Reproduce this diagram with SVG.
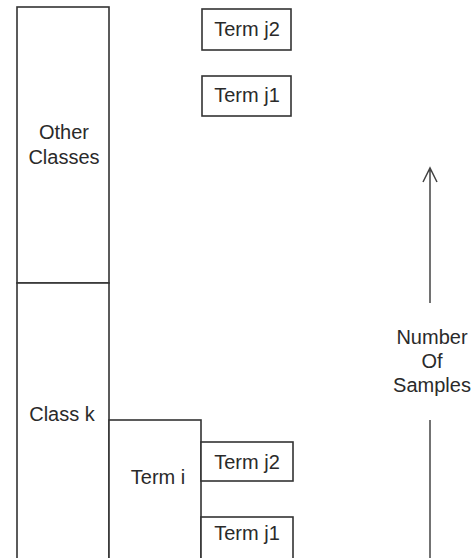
<svg xmlns="http://www.w3.org/2000/svg" width="475" height="558" viewBox="0 0 475 558">
<style>
rect{fill:#fff;stroke:#333;stroke-width:1.6}
text{font-family:"Liberation Sans",Arial,sans-serif;font-size:20px;fill:#2a2a2a;text-anchor:middle}
.c{stroke:#444;stroke-width:1.5;fill:none}
</style>
<rect x="0" y="0" width="475" height="558" style="stroke:none"/>
<g id="other-classes"><rect x="17" y="7" width="92" height="276"/><text x="64" y="139">Other</text><text x="64" y="164">Classes</text></g>
<g id="class-k"><rect x="17" y="283" width="92" height="280"/><text x="62" y="421">Class k</text></g>
<g id="term-i"><rect x="109" y="420" width="92" height="143"/><text x="158" y="484">Term i</text></g>
<g id="term-j2-low"><rect x="201" y="442" width="92" height="39"/><text x="247" y="469">Term j2</text></g>
<g id="term-j1-low"><rect x="201" y="517" width="92" height="46"/><text x="247" y="540">Term j1</text></g>
<g id="term-j2-top"><rect x="202" y="9" width="89" height="41"/><text x="247" y="36">Term j2</text></g>
<g id="term-j1-top"><rect x="202" y="76" width="89" height="40"/><text x="247" y="102">Term j1</text></g>
<g id="axis-label"><text x="432" y="344">Number</text><text x="432" y="368">Of</text><text x="432" y="392">Samples</text></g>
<g id="connectors">
<path class="c" d="M430 303V168M423 182L430 168L437 182"/>
<path class="c" d="M430 420V558"/>
</g>
</svg>
